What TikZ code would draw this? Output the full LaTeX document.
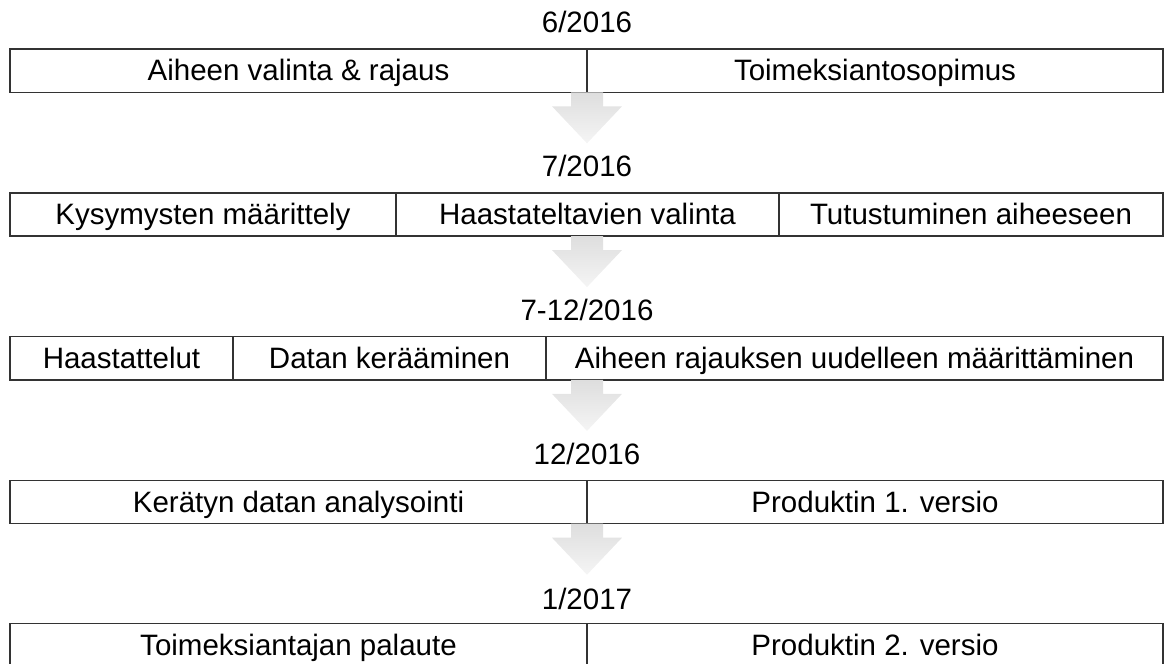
\documentclass[tikz,border=0pt]{standalone}
\usepackage{fontspec}
\setmainfont{Liberation Sans}
\usetikzlibrary{positioning,calc}

\tikzset{
	cell/.style={draw=black!80, line width=1.4pt, fill=white, outer sep=0pt, inner sep=0pt,
		minimum height=43.3pt, text height=22pt, text depth=2pt, anchor=north west,
		font=\fontsize{29.5}{35}\selectfont},
	datum/.style={anchor=base, font=\fontsize{29.5}{35}\selectfont},
	flowarrow/.style={top color=black!13, bottom color=black!4, draw=none}
}

\begin{document}
\begin{tikzpicture}[x=1pt,y=-1pt]
					\useasboundingbox (0,0) rectangle (1168,664);
					\clip (0,0) rectangle (1168,664);
					% 6/2016
					\node[datum] (d1) at (587,32) {6/2016};
					\node[cell, minimum width=577pt] (r1a) at (10,49) {Aiheen valinta \& rajaus};
					\node[cell, minimum width=576pt, right=0pt of r1a] (r1b) {Toimeksiantosopimus};
					% 7/2016
					\node[datum] (d2) at (587,176.4) {7/2016};
					\node[cell, minimum width=386pt] (r2a) at (10,192.8) {Kysymysten määrittely};
					\node[cell, minimum width=383pt, right=0pt of r2a] (r2b) {Haastateltavien valinta};
					\node[cell, minimum width=384pt, right=0pt of r2b] (r2c) {Tutustuminen aiheeseen};
					% 7-12/2016
					\node[datum] (d3) at (587,320.6) {7-12/2016};
					\node[cell, minimum width=223pt] (r3a) at (10,336.6) {Haastattelut};
					\node[cell, minimum width=313pt, right=0pt of r3a] (r3b) {Datan kerääminen};
					\node[cell, minimum width=617pt, right=0pt of r3b] (r3c) {Aiheen rajauksen uudelleen määrittäminen};
					% 12/2016
					\node[datum] (d4) at (587,464.6) {12/2016};
					\node[cell, minimum width=577pt] (r4a) at (10,480.4) {Kerätyn datan analysointi};
					\node[cell, minimum width=576pt, right=0pt of r4a] (r4b) {Produktin 1. versio};
					% 1/2017
					\node[datum] (d5) at (587,609.5) {1/2017};
					\node[cell, minimum width=577pt] (r5a) at (10,623.6) {Toimeksiantajan palaute};
					\node[cell, minimum width=576pt, right=0pt of r5a] (r5b) {Produktin 2. versio};
					% arrows
					\foreach \from/\to in {r1a/d2, r2a/d3, r3a/d4, r4a/d5}{
						\shade[flowarrow] (\to |- \from.south) ++(-16,0) -- ++(0,14) -- ++(-19,0)
							-- ++(35,37) -- ++(35,-37) -- ++(-19,0) -- ++(0,-14) -- cycle;
					}
				\end{tikzpicture}
\end{document}
